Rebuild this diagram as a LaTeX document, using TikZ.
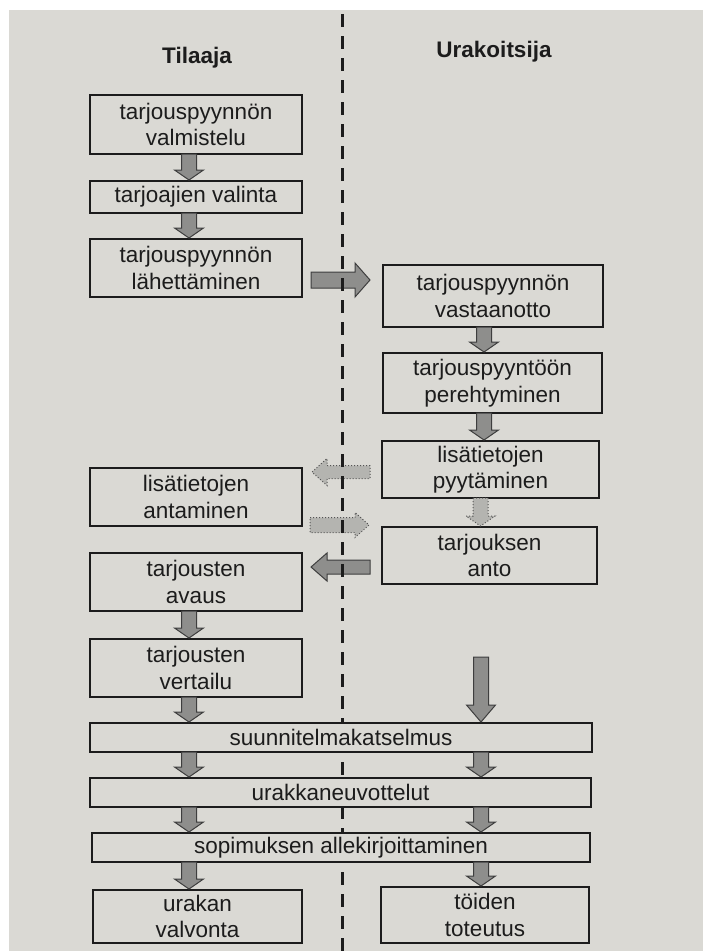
\documentclass[tikz,border=0pt]{standalone}
\usepackage{fontspec}
\setmainfont{Liberation Sans}
\usetikzlibrary{calc}
\definecolor{paper}{HTML}{DAD9D4}
\definecolor{inkc}{HTML}{1C1C1C}
\definecolor{arrgray}{HTML}{8E8E8C}
\definecolor{arrlight}{HTML}{B4B4B0}
% vertical block arrow: style, x, from anchor, to anchor, head length
\newcommand{\vblock}[5]{%
  \draw[#1] let \p1=(#3), \p2=(#4) in
    ({#2pt-7.5pt},{\y1+1pt}) -- ({#2pt-7.5pt},{\y2+#5pt}) -- ({#2pt-14.5pt},{\y2+#5pt})
    -- (#2pt,\y2) -- ({#2pt+14.5pt},{\y2+#5pt}) -- ({#2pt+7.5pt},{\y2+#5pt})
    -- ({#2pt+7.5pt},{\y1+1pt}) -- cycle;}
% rightward block arrow: style, start, tip, shaft half, head half, head length
\newcommand{\rblock}[6]{%
  \draw[#1] let \p1=(#2), \p2=(#3) in
    (\x1,{\y1+#4pt}) -- ({\x2-#6pt},{\y1+#4pt}) -- ({\x2-#6pt},{\y1+#5pt})
    -- (\x2,\y1) -- ({\x2-#6pt},{\y1-#5pt}) -- ({\x2-#6pt},{\y1-#4pt})
    -- (\x1,{\y1-#4pt}) -- cycle;}
% leftward block arrow
\newcommand{\lblock}[6]{%
  \draw[#1] let \p1=(#2), \p2=(#3) in
    (\x1,{\y1+#4pt}) -- ({\x2+#6pt},{\y1+#4pt}) -- ({\x2+#6pt},{\y1+#5pt})
    -- (\x2,\y1) -- ({\x2+#6pt},{\y1-#5pt}) -- ({\x2+#6pt},{\y1-#4pt})
    -- (\x1,{\y1-#4pt}) -- cycle;}
\begin{document}
\begin{tikzpicture}[x=1pt,y=-1pt,
  box/.style={draw=inkc, line width=2pt, fill=paper, align=center,
    inner sep=0pt, text=inkc, font=\fontsize{22.5}{26.5}\selectfont},
  title/.style={text=inkc, font=\fontsize{22.5}{26}\selectfont\bfseries},
  solidarr/.style={fill=arrgray, draw=inkc!85, line width=1pt, line join=miter},
  dotarr/.style={fill=arrlight, draw=inkc!75, line width=1pt, dotted, line join=miter},
  divider/.style={draw=inkc, line width=3pt, dash pattern=on 13pt off 9pt}]
\fill[white] (0,0) rectangle (703,951);
\fill[paper] (9,10) rectangle (703,951);
\useasboundingbox (0,0) rectangle (703,951);

% titles
\node[title, anchor=base] (tl) at (197,63) {Tilaaja};
\node[title, anchor=base] (tr) at (494,57) {Urakoitsija};

% free ends of the horizontal and long arrows
\coordinate (h1s) at (311,280); \coordinate (h1e) at (370,280);
\coordinate (h2s) at (370,472); \coordinate (h2e) at (312,472);
\coordinate (h3s) at (310,525); \coordinate (h3e) at (369,525);
\coordinate (h4s) at (370,567); \coordinate (h4e) at (311,567);
\coordinate (vbig) at (481,658);

% horizontal arrows
\rblock{solidarr}{h1s}{h1e}{8}{17}{15}
\lblock{dotarr}{h2s}{h2e}{6.5}{13.5}{15}
\rblock{dotarr}{h3s}{h3e}{7.5}{12.5}{14}
\lblock{solidarr}{h4s}{h4e}{7}{14}{16}

% divider
\coordinate (dtop) at (342,14);
\coordinate (dbot) at (342,951);
\draw[divider] (dtop) -- (dbot);

% boxes, left column
\node[box, minimum width=212pt, minimum height=59pt] (b1) at (196,124.5) {tarjouspyynnön\\valmistelu};
\node[box, minimum width=212pt, minimum height=32pt] (b2) at (196,197) {tarjoajien valinta};
\node[box, minimum width=212pt, minimum height=58pt] (b3) at (196,268) {tarjouspyynnön\\lähettäminen};
\node[box, minimum width=212pt, minimum height=58pt] (l4) at (196,497) {lisätietojen\\antaminen};
\node[box, minimum width=212pt, minimum height=58pt] (l5) at (196,582) {tarjousten\\avaus};
\node[box, minimum width=212pt, minimum height=58pt] (l6) at (196,668) {tarjousten\\vertailu};
\node[box, minimum width=209pt, minimum height=53pt] (l7) at (197.5,916.5) {urakan\\valvonta};

% boxes, right column
\node[box, minimum width=220pt, minimum height=62pt] (r1) at (493,296) {tarjouspyynnön\\vastaanotto};
\node[box, minimum width=219pt, minimum height=60pt] (r2) at (492.5,383) {tarjouspyyntöön\\perehtyminen};
\node[box, minimum width=217pt, minimum height=57pt] (r3) at (490.5,469.5) {lisätietojen\\pyytäminen};
\node[box, minimum width=215pt, minimum height=57pt] (r4) at (489.5,555.5) {tarjouksen\\anto};
\node[box, minimum width=208pt, minimum height=56pt] (r5) at (485,915) {töiden\\toteutus};

% wide boxes
\node[box, minimum width=502pt, minimum height=29pt] (w1) at (341,737.5) {suunnitelmakatselmus};
\node[box, minimum width=501pt, minimum height=29pt] (w2) at (340.5,792.5) {urakkaneuvottelut};
\node[box, minimum width=498pt, minimum height=29pt] (w3) at (341,847.5) {sopimuksen allekirjoittaminen};

% vertical arrows, left
\vblock{solidarr}{189}{b1.south}{b2.north}{10}
\vblock{solidarr}{189}{b2.south}{b3.north}{10}
\vblock{solidarr}{189}{l5.south}{l6.north}{10}
\vblock{solidarr}{189}{l6.south}{w1.north}{10}
\vblock{solidarr}{189}{w1.south}{w2.north}{10}
\vblock{solidarr}{189}{w2.south}{w3.north}{10}
\vblock{solidarr}{189}{w3.south}{l7.north}{10}

% vertical arrows, right
\vblock{solidarr}{484}{r1.south}{r2.north}{10}
\vblock{solidarr}{484}{r2.south}{r3.north}{10}
\vblock{dotarr}{480.5}{r3.south}{r4.north}{10}
\vblock{solidarr}{481}{vbig}{w1.north}{17}
\vblock{solidarr}{481}{w1.south}{w2.north}{10}
\vblock{solidarr}{481}{w2.south}{w3.north}{10}
\vblock{solidarr}{481}{w3.south}{r5.north}{10}
\end{tikzpicture}
\end{document}
